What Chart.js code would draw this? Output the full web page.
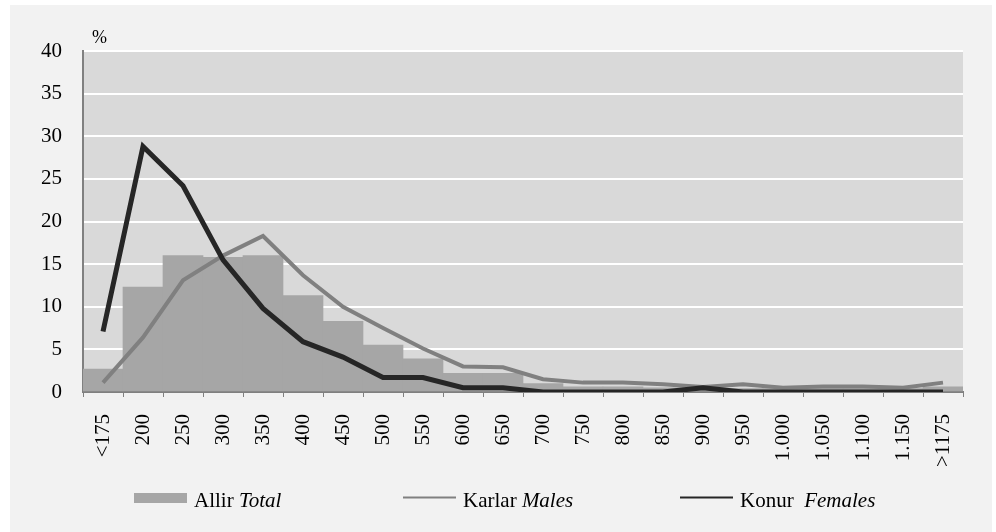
<!DOCTYPE html>
<html>
<head>
<meta charset="utf-8">
<script src="https://cdn.jsdelivr.net/npm/chart.js@4.4.1/dist/chart.umd.min.js"></script>
<style>
  html, body { margin: 0; padding: 0; background: #fff; }
  #wrap { position: relative; width: 996px; height: 532px; }
</style>
</head>
<body>
<div id="wrap"><canvas id="incomeChart" width="996" height="532"></canvas></div>
<script>
// categories (ISK thousands)
const categories = ["<175", "200", "250", "300", "350", "400", "450", "500", "550", "600", "650",
    "700", "750", "800", "850", "900", "950", "1.000", "1.050", "1.100", "1.150", ">1175"];

// series, %
const totalValues = [2.7, 12.3, 16.0, 15.8, 16.0, 11.3, 8.3, 5.5, 3.9, 2.2, 2.2,
    1.0, 0.6, 0.6, 0.5, 0.4, 0.4, 0.4, 0.4, 0.4, 0.4, 0.6];
const maleValues = [1.1, 6.4, 13.1, 16.0, 18.3, 13.7, 10.0, 7.5, 5.1, 3.0, 2.9,
    1.5, 1.1, 1.1, 0.9, 0.6, 0.9, 0.5, 0.65, 0.65, 0.5, 1.1];
const femaleValues = [7.1, 28.8, 24.2, 15.5, 9.8, 5.9, 4.1, 1.7, 1.7, 0.5, 0.5,
    0, 0, 0, 0, 0.5, 0, 0, 0, 0, 0, 0];

const yTicks = [0, 5, 10, 15, 20, 25, 30, 35, 40];

// legend entries: plain part + italic part
const legendItems = [
    { plain: "Allir ", italic: "Total", color: "#a6a6a6", type: "box", x: 134 },
    { plain: "Karlar ", italic: "Males", color: "#808080", type: "line", x: 403 },
    { plain: "Konur  ", italic: "Females", color: "#262626", type: "line", x: 680 }
];

const serif = '"Liberation Serif", "Times New Roman", serif';

// panel + plot background, "%" label and custom legend
const decor = {
    id: "decor",
    beforeDraw(chart) {
        const ctx = chart.ctx;
        const a = chart.chartArea;
        ctx.save();
        ctx.fillStyle = "#ffffff";
        ctx.fillRect(0, 0, chart.width, chart.height);
        ctx.fillStyle = "#f2f2f2";
        ctx.fillRect(10, 5, 982, 527);
        ctx.fillStyle = "#d9d9d9";
        ctx.fillRect(a.left, a.top, a.right - a.left, a.bottom - a.top);
        ctx.restore();
    },
    afterDraw(chart) {
        const ctx = chart.ctx;
        ctx.save();
        ctx.fillStyle = "#000";
        ctx.textBaseline = "alphabetic";
        ctx.font = "18px " + serif;
        ctx.fillText("%", 92, 43);

        legendItems.forEach(item => {
            if (item.type === "box") {
                ctx.fillStyle = item.color;
                ctx.fillRect(item.x, 493, 53, 10);
            } else {
                ctx.strokeStyle = item.color;
                ctx.lineWidth = 2;
                ctx.beginPath();
                ctx.moveTo(item.x, 497.5);
                ctx.lineTo(item.x + 53, 497.5);
                ctx.stroke();
            }
            let tx = item.x + 60;
            ctx.fillStyle = "#000";
            ctx.font = "21px " + serif;
            ctx.fillText(item.plain, tx, 507);
            tx += ctx.measureText(item.plain).width;
            ctx.font = "italic 21px " + serif;
            ctx.fillText(item.italic, tx, 507);
        });
        ctx.restore();
    }
};

new Chart(document.getElementById("incomeChart"), {
    type: "bar",
    data: {
        labels: categories,
        datasets: [{
            type: "line",
            label: "Konur Females",
            data: femaleValues,
            borderColor: "#262626",
            borderWidth: 5,
            pointRadius: 0,
            tension: 0,
            order: 1
        }, {
            type: "line",
            label: "Karlar Males",
            data: maleValues,
            borderColor: "#808080",
            borderWidth: 4,
            pointRadius: 0,
            tension: 0,
            order: 2
        }, {
            label: "Allir Total",
            data: totalValues,
            backgroundColor: "#a6a6a6",
            borderWidth: 0,
            barPercentage: 1,
            categoryPercentage: 1,
            order: 3
        }]
    },
    options: {
        responsive: false,
        animation: false,
        layout: { padding: { top: 51, right: 33, left: 0, bottom: 0 } },
        plugins: {
            legend: { display: false },
            tooltip: { enabled: false }
        },
        scales: {
            x: {
                afterFit: s => { s.height = 140; },
                grid: {
                    drawOnChartArea: false,
                    color: "#808080",
                    tickLength: 5,
                    offset: true
                },
                border: { color: "#808080", width: 2 },
                ticks: {
                    autoSkip: false,
                    minRotation: 90,
                    maxRotation: 90,
                    padding: 17,
                    color: "#000",
                    font: { family: serif, size: 21 }
                }
            },
            y: {
                min: 0,
                max: 40,
                afterFit: s => { s.width = 83; },
                afterBuildTicks: s => { s.ticks = yTicks.map(v => ({ value: v })); },
                grid: { color: "#ffffff", lineWidth: 2, drawTicks: false },
                border: { color: "#808080", width: 2 },
                ticks: {
                    padding: 21,
                    color: "#000",
                    font: { family: serif, size: 21 }
                }
            }
        }
    },
    plugins: [decor]
});
</script>
</body>
</html>
